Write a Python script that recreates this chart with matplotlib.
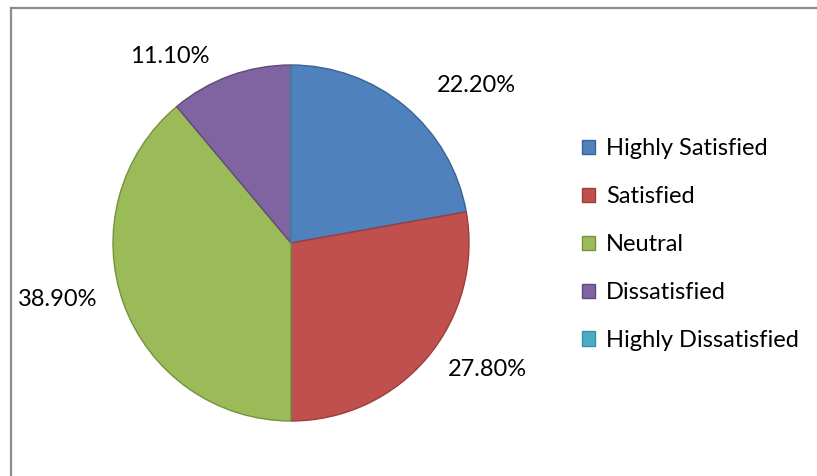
import matplotlib
matplotlib.use("Agg")
import matplotlib.pyplot as plt
from matplotlib.patches import Patch
from matplotlib.lines import Line2D

categories = ["Highly Satisfied", "Satisfied", "Neutral", "Dissatisfied", "Highly Dissatisfied"]
values = [22.2, 27.8, 38.9, 11.1, 0.0]
colors = ["#4F81BD", "#C0504D", "#9BBB59", "#8064A2", "#4BACC6"]
edges = ["#3A6396", "#973F3D", "#76923C", "#5F4A7B", "#3690A8"]

plt.rcParams['font.family'] = ['Lato', 'DejaVu Sans']

W, H = 817, 476
fig = plt.figure(figsize=(W / 100, H / 100), dpi=100)
fig.patch.set_facecolor("white")

# border (left and top visible)
fig.add_artist(Line2D([10.5 / W, 10.5 / W], [0, 1 - 7.5 / H], transform=fig.transFigure,
                      color="#8C8C8C", lw=1.6))
fig.add_artist(Line2D([10.5 / W, 1], [1 - 7.5 / H, 1 - 7.5 / H], transform=fig.transFigure,
                      color="#8C8C8C", lw=1.6))

cx, cy, r = 291, 243, 178
ax = fig.add_axes([(cx - r) / W, (H - cy - r) / H, 2 * r / W, 2 * r / H])
wedges, texts = ax.pie(values, colors=colors, startangle=90, counterclock=False,
                       wedgeprops=dict(linewidth=1.0))
for w, e in zip(wedges, edges):
    w.set_edgecolor(e)
ax.set_xlim(-1, 1)
ax.set_ylim(-1, 1)
ax.set_aspect("equal")
ax.axis("off")

FS = 17
label_pos = [(1.04, 0.885), (1.105, -0.71), (-1.31, -0.32), (-0.68, 1.045)]
for v, (x, y) in zip(values, label_pos):
    ax.text(x, y, f"{v:.2f}%", ha="center", va="center", fontsize=FS, color="black",
            clip_on=False)

handles = [Patch(facecolor=c, edgecolor=e, linewidth=1.0) for c, e in zip(colors, edges)]
leg = fig.legend(handles, categories, loc="upper left",
                 bbox_to_anchor=(561 / W, 1 - 117 / H), frameon=False,
                 fontsize=FS, handlelength=0.55, handleheight=0.55,
                 handletextpad=0.45, labelspacing=1.14)

fig.savefig("out.png", dpi=100)
